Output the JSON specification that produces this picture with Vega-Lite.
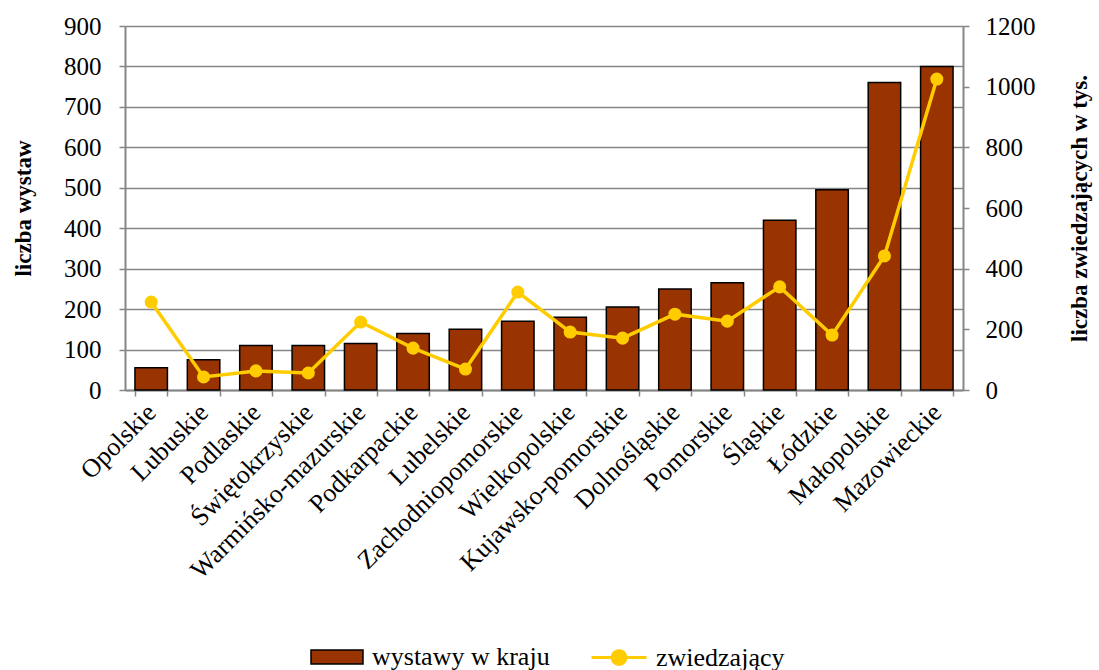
{
  "$schema": "https://vega.github.io/schema/vega-lite/v6.json",
  "width": 838,
  "height": 364,
  "autosize": {"type": "none"},
  "padding": {"left": 125, "top": 26, "right": 136, "bottom": 280},
  "background": "white",
  "config": {
    "view": {"stroke": null},
    "font": "Liberation Serif"
  },
  "data": {
    "values": [
      {"region": "Opolskie", "wystawy": 55, "zwiedzajacy": 290},
      {"region": "Lubuskie", "wystawy": 75, "zwiedzajacy": 43},
      {"region": "Podlaskie", "wystawy": 110, "zwiedzajacy": 63},
      {"region": "Świętokrzyskie", "wystawy": 110, "zwiedzajacy": 56},
      {"region": "Warmińsko-mazurskie", "wystawy": 115, "zwiedzajacy": 224},
      {"region": "Podkarpackie", "wystawy": 140, "zwiedzajacy": 138},
      {"region": "Lubelskie", "wystawy": 150, "zwiedzajacy": 69},
      {"region": "Zachodniopomorskie", "wystawy": 170, "zwiedzajacy": 323},
      {"region": "Wielkopolskie", "wystawy": 180, "zwiedzajacy": 191},
      {"region": "Kujawsko-pomorskie", "wystawy": 205, "zwiedzajacy": 171},
      {"region": "Dolnośląskie", "wystawy": 250, "zwiedzajacy": 250},
      {"region": "Pomorskie", "wystawy": 265, "zwiedzajacy": 227},
      {"region": "Śląskie", "wystawy": 420, "zwiedzajacy": 340},
      {"region": "Łódzkie", "wystawy": 495, "zwiedzajacy": 181},
      {"region": "Małopolskie", "wystawy": 760, "zwiedzajacy": 442},
      {"region": "Mazowieckie", "wystawy": 800, "zwiedzajacy": 1025}
    ]
  },
  "encoding": {
    "x": {
      "field": "region",
      "type": "nominal",
      "sort": null,
      "scale": {"paddingInner": 0.38, "paddingOuter": 0.19},
      "axis": {
        "title": null,
        "labelFont": "Liberation Serif",
        "labelFontSize": 26,
        "labelColor": "black",
        "labelLimit": 0,
        "labelAngle": -45,
        "labelAlign": "right",
        "labelBaseline": "middle",
        "labelPadding": 12,
        "tickBand": "extent",
        "tickSize": 6,
        "tickColor": "#868686",
        "tickWidth": 1.5,
        "domainColor": "#868686",
        "domainWidth": 2,
        "grid": false
      }
    }
  },
  "layer": [
    {
      "mark": {"type": "bar", "stroke": "black", "strokeWidth": 1.5},
      "encoding": {
        "y": {
          "field": "wystawy",
          "type": "quantitative",
          "scale": {"domain": [0, 900], "nice": false},
          "axis": {
            "title": "liczba wystaw",
            "titleFont": "Liberation Serif",
            "titleFontSize": 23,
            "titleFontWeight": "bold",
            "titleColor": "black",
            "titlePadding": 28,
            "labelFont": "Liberation Serif",
            "labelFontSize": 25,
            "labelColor": "black",
            "values": [0, 100, 200, 300, 400, 500, 600, 700, 800, 900],
            "grid": true,
            "gridColor": "#868686",
            "gridWidth": 1.5,
            "tickSize": 6,
            "tickColor": "#868686",
            "tickWidth": 1.5,
            "domainColor": "#868686",
            "domainWidth": 2,
            "labelPadding": 18
          }
        },
        "fill": {
          "datum": "wystawy w kraju",
          "scale": {"range": ["#993300"]},
          "legend": {
            "title": null,
            "orient": "none",
            "legendX": 185,
            "legendY": 604,
            "padding": 0,
            "symbolType": "M-1,-0.27H1V0.27H-1Z",
            "symbolSize": 2704,
            "symbolStrokeColor": "black",
            "symbolStrokeWidth": 1.5,
            "labelFont": "Liberation Serif",
            "labelFontSize": 26,
            "labelLimit": 0,
            "labelColor": "black",
            "labelOffset": 8
          }
        }
      }
    },
    {
      "layer": [
        {
          "mark": {"type": "line", "strokeWidth": 3.5},
          "encoding": {
            "y": {
              "field": "zwiedzajacy",
              "type": "quantitative",
              "scale": {"domain": [0, 1200], "nice": false},
              "axis": {
                "title": "liczba zwiedzających w tys.",
                "orient": "right",
                "format": "d",
                "titleFont": "Liberation Serif",
                "titleFontSize": 23,
                "titleFontWeight": "bold",
                "titleColor": "black",
                "titleAngle": 270,
                "titleBaseline": "bottom",
                "titlePadding": 56,
                "labelFont": "Liberation Serif",
                "labelFontSize": 25,
                "labelColor": "black",
                "values": [0, 200, 400, 600, 800, 1000, 1200],
                "grid": false,
                "tickSize": 6,
                "tickColor": "#868686",
                "tickWidth": 1.5,
                "domainColor": "#868686",
                "domainWidth": 2,
                "labelPadding": 16
              }
            },
            "stroke": {
              "datum": "zwiedzający",
              "scale": {"range": ["#FFCC00"]},
              "legend": {
                "title": null,
                "orient": "none",
                "legendX": 465,
                "legendY": 602.5,
                "padding": 0,
                "symbolType": "M-1,0H-0.25A0.25,0.25 0 1,1 0.25,0A0.25,0.25 0 1,1 -0.25,0M0.25,0H1",
                "symbolSize": 3025,
                "symbolFillColor": "#FFCC00",
                "symbolStrokeWidth": 3,
                "labelFont": "Liberation Serif",
                "labelFontSize": 26,
                "labelLimit": 0,
                "labelColor": "black",
                "labelOffset": 8
              }
            }
          }
        },
        {
          "mark": {"type": "point", "filled": true, "size": 170, "color": "#FFCC00", "opacity": 1},
          "encoding": {
            "y": {"field": "zwiedzajacy", "type": "quantitative"}
          }
        }
      ]
    }
  ],
  "resolve": {"scale": {"y": "independent"}}
}
